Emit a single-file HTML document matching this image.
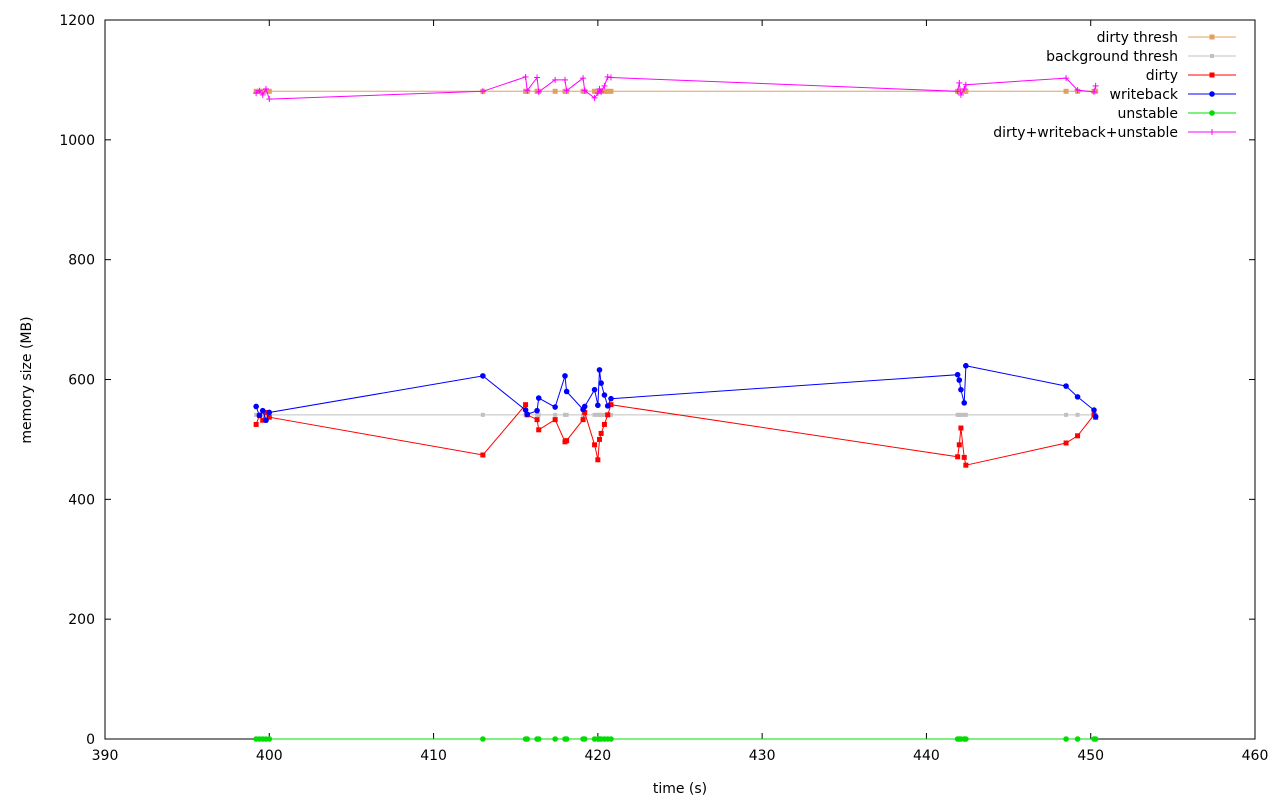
<!DOCTYPE html>
<html><head><meta charset="utf-8"><style>
body{margin:0;background:#fff;}
svg{display:block;font-family:"DejaVu Sans","Liberation Sans",sans-serif;font-size:14px;}
</style></head><body>
<svg id="chart" width="1280" height="800"></svg>
<script>
const times=[399.2,399.4,399.6,399.8,400.0,413.0,415.6,415.7,416.3,416.4,417.4,418.0,418.1,419.1,419.2,419.8,420.0,420.1,420.2,420.4,420.6,420.8,441.9,442.0,442.1,442.3,442.4,448.5,449.2,450.2,450.3];
const writeback=[555,540,548,532,545,606,549,542,548,569,554,606,580,550,555,583,557,616,594,574,556,568,608,599,583,561,623,589,571,549,538];
const dirty=[525,540,532,545,537,474,558,541,533,516,533,496,498,533,545,491,466,500,510,525,541,558,471,491,519,470,457,494,506,541,537];
const unstable=[0,0,0,0,0,0,0,0,0,0,0,0,0,0,0,0,0,0,0,0,0,0,0,0,0,0,0,0,0,0,0];
const totalSum=[1078,1082,1075,1085,1068,1081,1105,1082,1104,1080,1100,1100,1082,1103,1082,1070,1078,1085,1080,1090,1105,1104,1081,1095,1075,1085,1092,1103,1083,1080,1090];
const dirtyThresh=[1081,1081,1081,1081,1081,1081,1081,1081,1081,1081,1081,1081,1081,1081,1081,1081,1081,1081,1081,1081,1081,1081,1081,1081,1081,1081,1081,1081,1081,1081,1081];
const bgThresh=[541,541,541,541,541,541,541,541,541,541,541,541,541,541,541,541,541,541,541,541,541,541,541,541,541,541,541,541,541,541,541];
const xTicks=[390,400,410,420,430,440,450,460];
const yTicks=[0,200,400,600,800,1000,1200];

const NS="http://www.w3.org/2000/svg";
const svg=document.getElementById('chart');
const X0=105,X1=1255,Y0=739,Y1=20;
const xs=t=>X0+(t-390)/70*(X1-X0);
const ys=v=>Y0-v/1200*(Y0-Y1);
function el(tag,attrs,parent){const e=document.createElementNS(NS,tag);for(const k in attrs)e.setAttribute(k,attrs[k]);(parent||svg).appendChild(e);return e;}

const frame=el('rect',{x:X0,y:Y1,width:X1-X0,height:Y0-Y1,fill:'none',stroke:'#000','stroke-width':1});



xTicks.forEach(t=>{
  const x=xs(t);
  el('line',{x1:x,x2:x,y1:Y0,y2:Y0-6,stroke:'#000'});
  el('line',{x1:x,x2:x,y1:Y1,y2:Y1+6,stroke:'#000'});
  const tx=el('text',{x:x,y:Y0+21,'text-anchor':'middle',fill:'#000'});
  tx.textContent=t;
  
  
});
yTicks.forEach(v=>{
  const y=ys(v);
  el('line',{x1:X0,x2:X0+6,y1:y,y2:y,stroke:'#000'});
  el('line',{x1:X1,x2:X1-6,y1:y,y2:y,stroke:'#000'});
  const tx=el('text',{x:X0-10,y:y+5,'text-anchor':'end',fill:'#000'});
  tx.textContent=v;
  
  
});
const xt=el('text',{x:680,y:793,'text-anchor':'middle'});xt.textContent='time (s)';


const yt=el('text',{x:31,y:380,'text-anchor':'middle',transform:'rotate(-90 31 380)'});yt.textContent='memory size (MB)';



function marker(g,type,x,y,c){
  if(type==='sq') el('rect',{x:x-2.5,y:y-2.5,width:5,height:5,fill:c},g);
  else if(type==='sqs') el('rect',{x:x-2,y:y-2,width:4,height:4,fill:c},g);
  else if(type==='circ') el('circle',{cx:x,cy:y,r:2.8,fill:c},g);
  else if(type==='plus'){el('line',{x1:x-3,x2:x+3,y1:y,y2:y,stroke:c},g);el('line',{x1:x,x2:x,y1:y-3,y2:y+3,stroke:c},g);}
}
const series=[
 {name:'dirty thresh',vals:dirtyThresh,c:'#e0a060',m:'sq',dn:'dirty-thresh-series'},
 {name:'background thresh',vals:bgThresh,c:'#c0c0c0',m:'sqs',dn:'background-thresh-series'},
 {name:'dirty',vals:dirty,c:'#ff0000',m:'sq',dn:'dirty-series'},
 {name:'writeback',vals:writeback,c:'#0000ff',m:'circ',dn:'writeback-series'},
 {name:'unstable',vals:unstable,c:'#00dd00',m:'circ',dn:'unstable-series'},
 {name:'dirty+writeback+unstable',vals:totalSum,c:'#ff00ff',m:'plus',dn:'total-series'}
];
series.forEach((s,i)=>{
  const g=el('g',{});
  
  
  const pts=times.map((t,j)=>xs(t).toFixed(1)+','+ys(s.vals[j]).toFixed(1)).join(' ');
  el('polyline',{points:pts,fill:'none',stroke:s.c,'stroke-width':1},g);
  times.forEach((t,j)=>marker(g,s.m,xs(t),ys(s.vals[j]),s.c));
  const ly=37+i*19;
  const lg=el('g',{});
  
  
  const lt=el('text',{x:1178,y:ly+5,'text-anchor':'end'},lg);lt.textContent=s.name;
  el('line',{x1:1188,x2:1236,y1:ly,y2:ly,stroke:s.c},lg);
  marker(lg,s.m,1212,ly,s.c);
});
</script>
</body></html>
